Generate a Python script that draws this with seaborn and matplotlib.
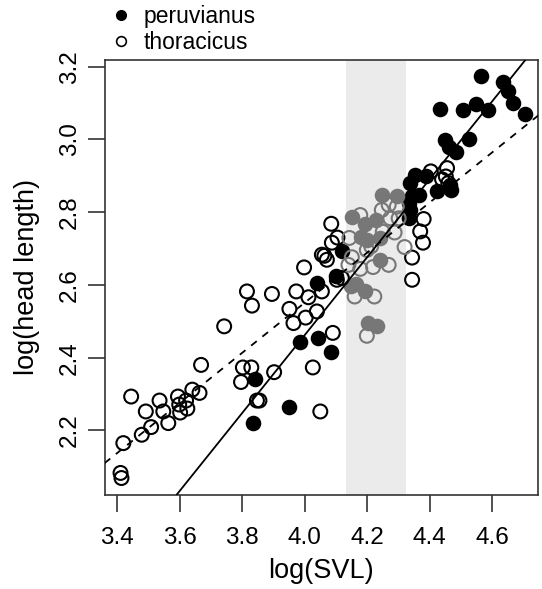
import numpy as np
import pandas as pd
import matplotlib
matplotlib.use("Agg")
import matplotlib.pyplot as plt
from matplotlib.lines import Line2D
import seaborn as sns

# ---- data ----
peru_x = [3.833, 3.841, 3.950, 3.986, 4.041, 4.085, 4.039, 4.101, 4.119,
          4.247, 4.295, 4.151, 4.194, 4.229, 4.180, 4.199, 4.240, 4.240,
          4.165, 4.148, 4.192, 4.204, 4.231,
          4.333, 4.338, 4.335, 4.344, 4.365, 4.338, 4.354, 4.388,
          4.424, 4.469, 4.466, 4.448, 4.461, 4.485, 4.527,
          4.434, 4.507, 4.550, 4.587, 4.566, 4.634, 4.650, 4.667, 4.707]
peru_y = [2.220, 2.342, 2.263, 2.443, 2.454, 2.415, 2.605, 2.625, 2.694,
          2.848, 2.843, 2.786, 2.768, 2.777, 2.731, 2.722, 2.729, 2.669,
          2.603, 2.596, 2.582, 2.495, 2.486,
          2.783, 2.806, 2.825, 2.843, 2.848, 2.881, 2.902, 2.898,
          2.857, 2.861, 2.875, 2.999, 2.980, 2.966, 3.001,
          3.083, 3.081, 3.098, 3.081, 3.174, 3.159, 3.134, 3.101, 3.070]

thor_x = [3.410, 3.413, 3.419, 3.444, 3.478, 3.491, 3.508, 3.535, 3.547, 3.563,
          3.594, 3.598, 3.601, 3.620, 3.624, 3.640, 3.663, 3.668, 3.742, 3.796,
          3.802, 3.829, 3.847, 3.855, 3.815, 3.831, 3.902, 3.895, 3.973, 3.951,
          3.964, 3.998, 4.012, 4.003, 4.039, 4.026, 4.050, 4.055, 4.090,
          4.085, 4.105, 4.087, 4.063, 4.071, 4.103, 4.119, 4.055,
          4.178, 4.247, 4.269, 4.295, 4.274, 4.301, 4.288, 4.250, 4.143, 4.213,
          4.199, 4.151, 4.140, 4.178, 4.219, 4.269, 4.320, 4.160, 4.223, 4.199,
          4.381, 4.370, 4.379, 4.344, 4.344, 4.404, 4.456, 4.452, 4.460, 4.440]
thor_y = [2.083, 2.069, 2.165, 2.293, 2.188, 2.252, 2.209, 2.282, 2.252, 2.220,
          2.293, 2.271, 2.249, 2.282, 2.260, 2.312, 2.303, 2.380, 2.486, 2.333,
          2.373, 2.373, 2.282, 2.282, 2.582, 2.543, 2.360, 2.575, 2.582, 2.534,
          2.495, 2.648, 2.566, 2.510, 2.527, 2.373, 2.252, 2.683, 2.468,
          2.768, 2.730, 2.716, 2.680, 2.669, 2.614, 2.619, 2.582,
          2.792, 2.806, 2.820, 2.815, 2.783, 2.783, 2.744, 2.746, 2.729, 2.706,
          2.696, 2.676, 2.655, 2.644, 2.649, 2.655, 2.704, 2.568, 2.568, 2.460,
          2.781, 2.747, 2.716, 2.675, 2.614, 2.912, 2.921, 2.898, 2.880, 2.890]

# fitted lines (intercept, slope)
peru_fit = [-1.818, 1.070]
thor_fit = [-0.201, 0.688]

band = [4.132, 4.325]
x_ticks = [3.4, 3.6, 3.8, 4.0, 4.2, 4.4, 4.6]
y_ticks = [2.2, 2.4, 2.6, 2.8, 3.0, 3.2]
legend_labels = ["peruvianus", "thoracicus"]

# ---- style ----
sns.set_style("white")
plt.rcParams["font.family"] = ["Liberation Sans", "DejaVu Sans"]
plt.rcParams.update({"text.color": "black", "axes.labelcolor": "black",
                     "xtick.color": "black", "ytick.color": "black"})

fig = plt.figure(figsize=(5.42, 5.89), dpi=100)
ax = fig.add_axes([0.193, 0.160, 0.800, 0.738])

ax.axvspan(band[0], band[1], color="#ebebeb", zorder=0, lw=0)

df = pd.concat([
    pd.DataFrame({"x": peru_x, "y": peru_y, "sp": legend_labels[0]}),
    pd.DataFrame({"x": thor_x, "y": thor_y, "sp": legend_labels[1]}),
], ignore_index=True)
df["inband"] = (df["x"] >= band[0]) & (df["x"] <= band[1])

BLACK = "#000000"
GREY = "#777777"
S = 100
for sp in legend_labels:
    for inb in [False, True]:
        sub = df[(df.sp == sp) & (df.inband == inb)]
        col = GREY if inb else BLACK
        if sp == legend_labels[0]:
            sns.scatterplot(data=sub, x="x", y="y", ax=ax, s=S,
                            facecolor=col, edgecolor=col, linewidth=1.2, zorder=3)
        else:
            sns.scatterplot(data=sub, x="x", y="y", ax=ax, s=S,
                            facecolor="none", edgecolor=col, linewidth=1.5, zorder=3)

ax.axline((0, peru_fit[0]), slope=peru_fit[1], color="black", lw=1.3, zorder=4)
ax.axline((0, thor_fit[0]), slope=thor_fit[1], color="black", lw=1.3,
          dashes=(4, 4), zorder=4)

ax.set_xlim(3.359, 4.748)
ax.set_ylim(2.023, 3.218)
ax.set_xticks(x_ticks)
ax.set_yticks(y_ticks)
ax.set_xticklabels([f"{v:.1f}" for v in x_ticks])
ax.set_yticklabels([f"{v:.1f}" for v in y_ticks], rotation=90, va="center")
ax.tick_params(direction="out", length=12, width=1.1, color="#222222",
               labelcolor="black", labelsize=17.5, pad=11, bottom=True, left=True)
ax.tick_params(axis="y", pad=5)
ax.set_xlabel("log(SVL)", fontsize=19.5, labelpad=7, color="black")
ax.set_ylabel("log(head length)", fontsize=19.5, labelpad=14, color="black")
for sp_ in ax.spines.values():
    sp_.set_visible(True)
    sp_.set_linewidth(1.2)
    sp_.set_color("#333333")

handles = [
    Line2D([], [], marker="o", ls="", markersize=7, markerfacecolor="black",
           markeredgecolor="black"),
    Line2D([], [], marker="o", ls="", markersize=7, markerfacecolor="none",
           markeredgecolor="black", markeredgewidth=1.2),
]
fig.legend(handles, legend_labels, loc="upper left",
           bbox_to_anchor=(110 / 542, 1 - 5 / 589), frameon=False,
           fontsize=16.5, handlelength=1.0, handletextpad=0.45,
           borderpad=0, labelspacing=0.12, borderaxespad=0, labelcolor="black")

fig.savefig("out.png", dpi=100)
